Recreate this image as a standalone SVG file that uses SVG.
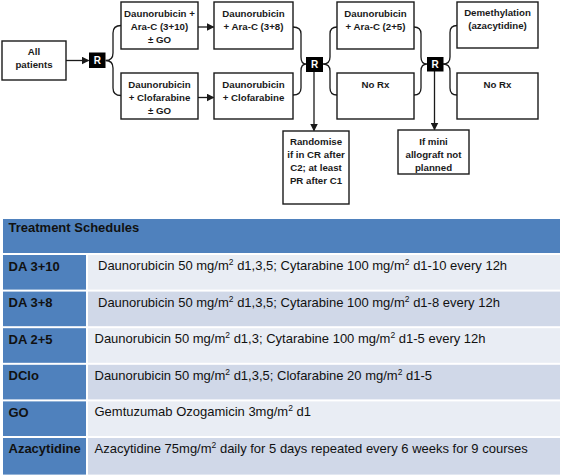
<svg xmlns="http://www.w3.org/2000/svg" width="563" height="476" viewBox="0 0 563 476">
<style>
.box{fill:#fff;stroke:#1a1a1a;stroke-width:1.4}
.rbox{fill:#000}
.rt{font-family:"Liberation Sans",Arial,sans-serif;font-weight:bold;font-size:10px;fill:#fff;text-anchor:middle}
.bt{font-family:"Liberation Sans",Arial,sans-serif;font-weight:bold;font-size:9.7px;fill:#1a1a1a;text-anchor:middle}
.ln{fill:none;stroke:#1a1a1a;stroke-width:1.3}
.hd{fill:#4F81BD}
.c1{fill:#E9EDF4}
.c2{fill:#D0D8E8}
.th{font-family:"Liberation Sans",Arial,sans-serif;font-weight:bold;font-size:13px;fill:#111}
.td{font-family:"Liberation Sans",Arial,sans-serif;font-size:13px;fill:#111}
.sup{font-size:8.5px}
</style>
<defs>
<marker id="ah" markerWidth="8" markerHeight="8" refX="7" refY="4" orient="auto" markerUnits="userSpaceOnUse">
<path d="M0,0 L8,4 L0,8 Z" fill="#1a1a1a"/>
</marker>
</defs>
<rect width="563" height="476" fill="#fff"/>

<g id="connectors">
<line class="ln" x1="66" y1="60.5" x2="88.5" y2="60.5" marker-end="url(#ah)"/>
<path class="ln" d="M121,25.5 Q113,25.5 113,33 L113,53 Q113,60.5 105.5,60.5 Q113,60.5 113,68 L113,88 Q113,95.5 121,95.5"/>
<line class="ln" x1="198" y1="27" x2="213.5" y2="27" marker-end="url(#ah)"/>
<line class="ln" x1="198" y1="97.5" x2="213.5" y2="97.5" marker-end="url(#ah)"/>
<path class="ln" d="M293,27 Q301,27 301,34 L301,57 Q301,64 306,64 Q301,64 301,71 L301,88 Q301,95 293,95"/>
<path class="ln" d="M337,27 Q330,27 330,34 L330,57 Q330,64 323,64 Q330,64 330,71 L330,88 Q330,95 337,95"/>
<line class="ln" x1="314" y1="72" x2="314" y2="130.5" marker-end="url(#ah)"/>
<path class="ln" d="M414,27 Q421,27 421,34 L421,57 Q421,64 427,64 Q421,64 421,71 L421,88 Q421,95 414,95"/>
<path class="ln" d="M457,25.5 Q450,25.5 450,32.5 L450,57 Q450,64 443,64 Q450,64 450,71 L450,88 Q450,95 457,95"/>
<line class="ln" x1="434.5" y1="71" x2="434.5" y2="129.5" marker-end="url(#ah)"/>
</g>

<g id="all-patients">
<rect class="box" x="2" y="41" width="64" height="39"/>
<text class="bt" x="34" y="54.5">All</text>
<text class="bt" x="34" y="68">patients</text>
</g>
<g id="r1">
<rect class="rbox" x="89" y="52.5" width="16.5" height="15.5"/>
<text class="rt" x="97.3" y="64">R</text>
</g>
<g id="da-3-10">
<rect class="box" x="121" y="2" width="77" height="47"/>
<text class="bt" x="159.5" y="16.5">Daunorubicin +</text>
<text class="bt" x="159.5" y="29.7">Ara-C (3+10)</text>
<text class="bt" x="159.5" y="42.5">± GO</text>
</g>
<g id="dclo-go">
<rect class="box" x="121" y="73" width="77" height="46"/>
<text class="bt" x="159.5" y="87.5">Daunorubicin</text>
<text class="bt" x="159.5" y="100.7">+ Clofarabine</text>
<text class="bt" x="159.5" y="114">± GO</text>
</g>
<g id="da-3-8">
<rect class="box" x="214" y="2" width="79" height="47"/>
<text class="bt" x="253.5" y="16.5">Daunorubicin</text>
<text class="bt" x="253.5" y="29.7">+ Ara-C (3+8)</text>
</g>
<g id="dclo">
<rect class="box" x="214" y="73" width="79" height="46"/>
<text class="bt" x="253.5" y="87.5">Daunorubicin</text>
<text class="bt" x="253.5" y="100.7">+ Clofarabine</text>
</g>
<g id="r2">
<rect class="rbox" x="306" y="57" width="17" height="15"/>
<text class="rt" x="314.5" y="68.3">R</text>
</g>
<g id="randomise">
<rect class="box" x="283" y="131" width="66" height="73"/>
<text class="bt" x="316" y="144.5">Randomise</text>
<text class="bt" x="316" y="157.7">if in CR after</text>
<text class="bt" x="316" y="171">C2; at least</text>
<text class="bt" x="316" y="184.3">PR after C1</text>
</g>
<g id="da-2-5">
<rect class="box" x="337" y="2" width="77" height="47"/>
<text class="bt" x="375.5" y="16.5">Daunorubicin</text>
<text class="bt" x="375.5" y="29.7">+ Ara-C (2+5)</text>
</g>
<g id="no-rx-1">
<rect class="box" x="337" y="73" width="77" height="46"/>
<text class="bt" x="375.5" y="87.5">No Rx</text>
</g>
<g id="r3">
<rect class="rbox" x="427" y="57" width="16.5" height="14.5"/>
<text class="rt" x="435.2" y="68">R</text>
</g>
<g id="mini-allograft">
<rect class="box" x="398" y="130" width="71" height="44"/>
<text class="bt" x="433.5" y="144.5">If mini</text>
<text class="bt" x="433.5" y="157.7">allograft not</text>
<text class="bt" x="433.5" y="171">planned</text>
</g>
<g id="demethylation">
<rect class="box" x="457" y="2" width="81" height="46"/>
<text class="bt" x="497.5" y="16">Demethylation</text>
<text class="bt" x="497.5" y="29.2">(azacytidine)</text>
</g>
<g id="no-rx-2">
<rect class="box" x="457" y="73" width="81" height="46"/>
<text class="bt" x="497.5" y="87.5">No Rx</text>
</g>

<g id="table">
<rect class="hd" x="3" y="219" width="557" height="34"/>
<text class="th" x="8.5" y="232">Treatment Schedules</text>

<rect class="hd" x="3" y="255" width="83" height="34.6"/>
<rect class="c1" x="88" y="255" width="472" height="34.6"/>
<text class="th" x="8.5" y="270.5">DA 3+10</text>
<text class="td" x="98" y="270">Daunorubicin 50 mg/m<tspan class="sup" dy="-5">2</tspan><tspan dy="5"> d1,3,5; Cytarabine 100 mg/m</tspan><tspan class="sup" dy="-5">2</tspan><tspan dy="5"> d1-10 every 12h</tspan></text>

<rect class="hd" x="3" y="291.6" width="83" height="34.6"/>
<rect class="c2" x="88" y="291.6" width="472" height="34.6"/>
<text class="th" x="8.5" y="307">DA 3+8</text>
<text class="td" x="98" y="306.5">Daunorubicin 50 mg/m<tspan class="sup" dy="-5">2</tspan><tspan dy="5"> d1,3,5; Cytarabine 100 mg/m</tspan><tspan class="sup" dy="-5">2</tspan><tspan dy="5"> d1-8 every 12h</tspan></text>

<rect class="hd" x="3" y="328.2" width="83" height="34.6"/>
<rect class="c1" x="88" y="328.2" width="472" height="34.6"/>
<text class="th" x="8.5" y="343.5">DA 2+5</text>
<text class="td" x="94.5" y="343">Daunorubicin 50 mg/m<tspan class="sup" dy="-5">2</tspan><tspan dy="5"> d1,3; Cytarabine 100 mg/m</tspan><tspan class="sup" dy="-5">2</tspan><tspan dy="5"> d1-5 every 12h</tspan></text>

<rect class="hd" x="3" y="364.8" width="83" height="34.6"/>
<rect class="c2" x="88" y="364.8" width="472" height="34.6"/>
<text class="th" x="8.5" y="380">DClo</text>
<text class="td" x="94.5" y="379.5">Daunorubicin 50 mg/m<tspan class="sup" dy="-5">2</tspan><tspan dy="5"> d1,3,5; Clofarabine 20 mg/m</tspan><tspan class="sup" dy="-5">2</tspan><tspan dy="5"> d1-5</tspan></text>

<rect class="hd" x="3" y="401.4" width="83" height="34.6"/>
<rect class="c1" x="88" y="401.4" width="472" height="34.6"/>
<text class="th" x="8.5" y="416.5">GO</text>
<text class="td" x="94.5" y="416">Gemtuzumab Ozogamicin 3mg/m<tspan class="sup" dy="-5">2</tspan><tspan dy="5"> d1</tspan></text>

<rect class="hd" x="3" y="438" width="83" height="36.6"/>
<rect class="c2" x="88" y="438" width="472" height="36.6"/>
<text class="th" x="8.5" y="453">Azacytidine</text>
<text class="td" x="94.5" y="452.5">Azacytidine 75mg/m<tspan class="sup" dy="-5">2</tspan><tspan dy="5"> daily for 5 days repeated every 6 weeks for 9 courses</tspan></text>
</g>
</svg>
